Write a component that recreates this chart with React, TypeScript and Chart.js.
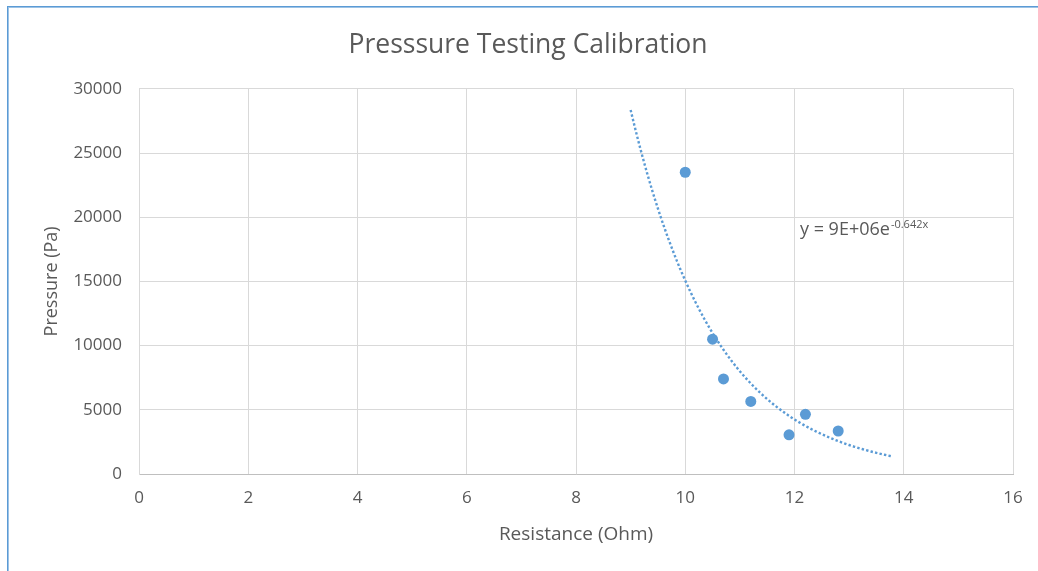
import React, { useEffect, useRef } from "react";
import { Chart, registerables } from "chart.js";

Chart.register(...registerables);

// ---- data ----
const resistance = [10, 10.5, 10.7, 11.2, 11.9, 12.2, 12.8];
const pressure = [23500, 10500, 7400, 5650, 3050, 4650, 3350];
const xTicks = [0, 2, 4, 6, 8, 10, 12, 14, 16];
const yTicks = [0, 5000, 10000, 15000, 20000, 25000, 30000];
const trendFrom = 9; // forecast backward 1
const trendTo = 13.8; // forecast forward 1
const equationMain = "y = 9E+06e";
const equationExp = "-0.642x";
const equationAnchor = [12.1, 18600];

const titleText = "Presssure Testing Calibration";
const xTitle = "Resistance (Ohm)";
const yTitle = "Pressure (Pa)";

// exponential least-squares fit (Excel exponential trendline)
function expFit(xs: number[], ys: number[]) {
  const n = xs.length;
  const ly = ys.map((v) => Math.log(v));
  const mx = xs.reduce((a, b) => a + b, 0) / n;
  const my = ly.reduce((a, b) => a + b, 0) / n;
  let sxy = 0;
  let sxx = 0;
  for (let i = 0; i < n; i++) {
    sxy += (xs[i] - mx) * (ly[i] - my);
    sxx += (xs[i] - mx) * (xs[i] - mx);
  }
  const b = sxy / sxx;
  const a = Math.exp(my - b * mx);
  return { a, b };
}

const BLUE = "#5b9bd5";
const TEXT = "#595959";
const GRID = "#d9d9d9";
const FONT = "'Open Sans', 'Liberation Sans', sans-serif";

export default function App() {
  const ref = useRef<HTMLCanvasElement | null>(null);

  useEffect(() => {
    if (!ref.current) return;
    const fit = expFit(resistance, pressure);
    const trend: { x: number; y: number }[] = [];
    const steps = 96;
    for (let i = 0; i <= steps; i++) {
      const x = trendFrom + ((trendTo - trendFrom) * i) / steps;
      trend.push({ x, y: fit.a * Math.exp(fit.b * x) });
    }

    const equationPlugin = {
      id: "equation",
      afterDatasetsDraw(chart: any) {
        const { ctx, scales } = chart;
        const x = scales.x.getPixelForValue(equationAnchor[0]);
        const y = scales.y.getPixelForValue(equationAnchor[1]);
        ctx.save();
        ctx.fillStyle = TEXT;
        ctx.textBaseline = "alphabetic";
        ctx.textAlign = "left";
        ctx.font = `18px ${FONT}`;
        ctx.fillText(equationMain, x, y);
        const w = ctx.measureText(equationMain).width;
        ctx.font = `11px ${FONT}`;
        ctx.fillText(equationExp, x + w + 1, y - 7);
        ctx.restore();
      },
    };

    const chart = new Chart(ref.current, {
      type: "scatter",
      data: {
        datasets: [
          {
            label: "Pressure",
            data: resistance.map((x, i) => ({ x, y: pressure[i] })),
            backgroundColor: BLUE,
            borderColor: BLUE,
            borderWidth: 0,
            pointRadius: 5.5,
            order: 1,
          },
          {
            label: "Expon. (Pressure)",
            data: trend,
            showLine: true,
            borderColor: BLUE,
            borderWidth: 2.4,
            borderDash: [2.4, 2.2],
            pointRadius: 0,
            fill: false,
            tension: 0,
            order: 2,
          } as any,
        ],
      },
      options: {
        responsive: false,
        animation: false,
        events: [],
        layout: { padding: { top: 11, left: 43, right: 25, bottom: 22 } },
        plugins: {
          legend: { display: false },
          tooltip: { enabled: false },
          title: {
            display: true,
            text: titleText,
            color: TEXT,
            font: { family: FONT, size: 26.5, weight: "normal" },
            padding: { top: 19, bottom: 27 },
          },
        },
        scales: {
          x: {
            type: "linear",
            min: 0,
            max: 16,
            afterBuildTicks: (s: any) => {
              s.ticks = xTicks.map((v) => ({ value: v }));
            },
            afterFit: (s: any) => {
              s.height = 75;
            },
            grid: { color: GRID, drawTicks: false },
            border: { color: "#bfbfbf", width: 1 },
            ticks: {
              color: TEXT,
              padding: 14,
              font: { family: FONT, size: 17 },
              callback: (v: any) => String(v),
            },
            title: {
              display: true,
              text: xTitle,
              color: TEXT,
              font: { family: FONT, size: 19 },
              padding: { top: 0, bottom: 3 },
            },
          },
          y: {
            type: "linear",
            min: 0,
            max: 30000,
            afterBuildTicks: (s: any) => {
              s.ticks = yTicks.map((v) => ({ value: v }));
            },
            afterFit: (s: any) => {
              s.width = 96;
            },
            grid: { color: GRID, drawTicks: false },
            border: { color: GRID, width: 1 },
            ticks: {
              color: TEXT,
              padding: 17,
              font: { family: FONT, size: 17 },
              callback: (v: any) => String(v),
            },
            title: {
              display: true,
              text: yTitle,
              color: TEXT,
              font: { family: FONT, size: 18 },
              padding: { top: -2, bottom: 0 },
            },
          },
        },
      },
      plugins: [equationPlugin],
    });
    return () => chart.destroy();
  }, []);

  return (
    <div style={{ position: "absolute", left: 0, top: 0, width: 1038, height: 571, background: "#fff" }}>
      <canvas ref={ref} width={1038} height={571} style={{ position: "absolute", left: 0, top: 0 }} />
      <div style={{ position: "absolute", left: 7, top: 6, width: 1, height: 565, background: BLUE }} />
      <div style={{ position: "absolute", left: 8, top: 7, width: 1, height: 564, background: "#9dc3e6" }} />
      <div style={{ position: "absolute", left: 7, top: 6, width: 1031, height: 1, background: BLUE }} />
      <div style={{ position: "absolute", left: 8, top: 7, width: 1030, height: 1, background: "#9dc3e6" }} />
    </div>
  );
}
